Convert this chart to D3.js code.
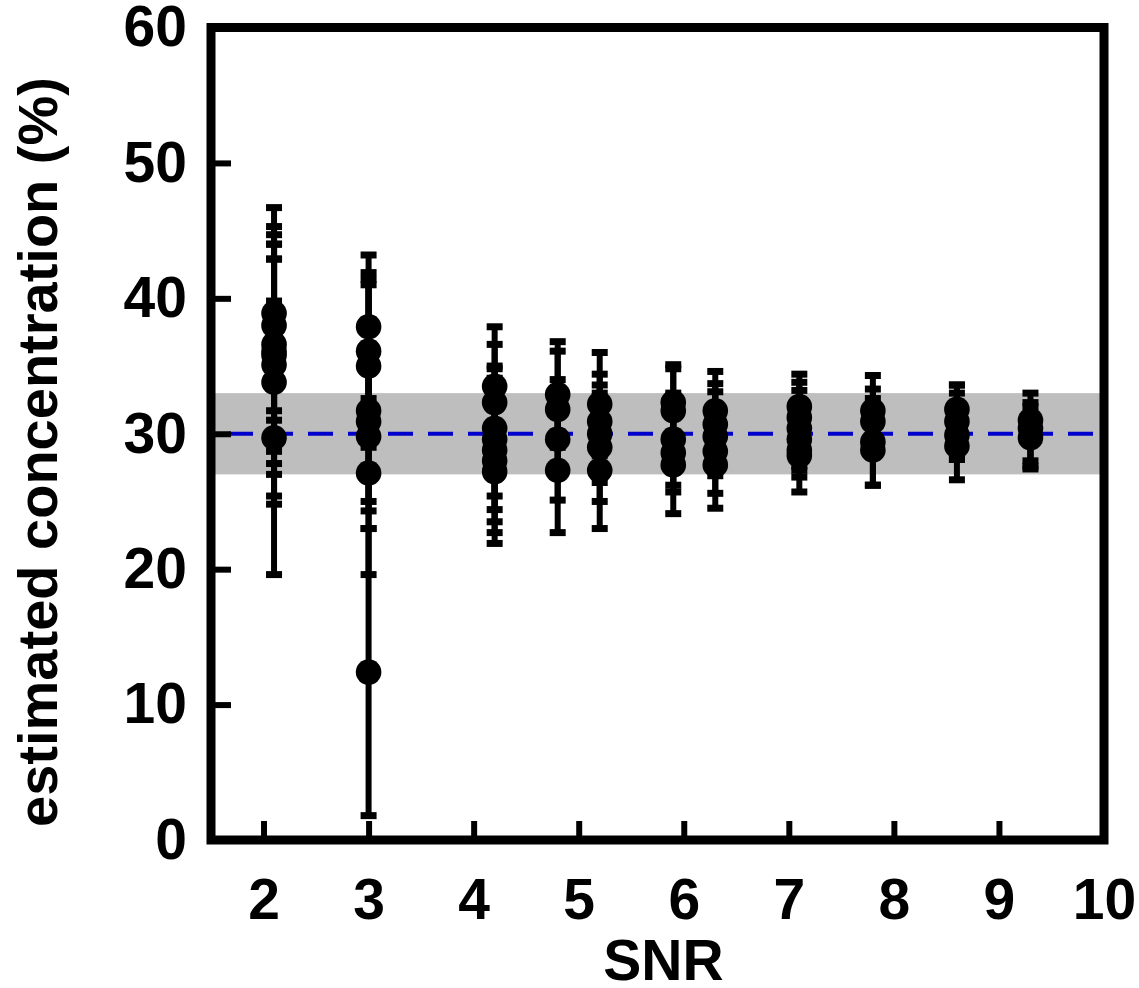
<!DOCTYPE html>
<html>
<head>
<meta charset="utf-8">
<script src="https://cdn.jsdelivr.net/npm/d3@7"></script>
<style>
    body { margin: 0; background: #fff; }
    svg { display: block; font-family: "Liberation Sans", Arial, sans-serif; font-weight: bold; }
    .axis text { font-size: 57px; font-weight: bold; fill: #000; }
    .axis line { stroke: #000; stroke-width: 6; }
</style>
</head>
<body>
<div id="view"></div>
<script>

// SNR position of each group of estimates
var snrLevels = [2.1, 3.0, 4.2, 4.8, 5.2, 5.9, 6.3, 7.1, 7.8, 8.6, 9.3];

// estimated concentration (%) per group
var estimates = [
    [38.9, 38.0, 36.6, 36.1, 35.8, 35.1, 33.8, 29.7],
    [37.9, 36.1, 35.0, 31.7, 30.9, 29.8, 27.1, 12.4],
    [33.5, 32.3, 30.4, 29.6, 28.8, 28.0, 27.2],
    [32.9, 31.8, 29.6, 27.3],
    [32.2, 30.9, 30.0, 29.0, 27.3],
    [32.3, 31.7, 29.6, 28.6, 27.7],
    [31.7, 30.7, 29.8, 28.7, 27.7],
    [32.0, 31.2, 30.4, 29.6, 28.8, 28.4],
    [31.7, 30.9, 29.4, 28.8],
    [31.8, 30.9, 29.9, 29.1],
    [31.0, 30.4, 29.7],
];

var lowerLimits = [
    [31.0, 31.7, 28.7, 27.8, 27.0, 25.4, 24.8, 19.6],
    [32.6, 30.3, 29.0, 25.0, 24.3, 19.6, 23.0, 1.8],
    [29.1, 28.0, 25.4, 24.4, 23.5, 22.7, 21.9],
    [29.0, 27.5, 25.1, 22.7],
    [28.4, 27.4, 26.4, 25.0, 23.0],
    [29.5, 28.6, 26.2, 25.7, 24.1],
    [28.8, 27.7, 26.9, 25.6, 24.5],
    [29.6, 28.6, 27.6, 27.3, 26.8, 25.7],
    [29.3, 28.5, 26.2, 26.2],
    [29.9, 28.1, 26.6, 28.1],
    [28.0, 27.4, 27.6],
];

var upperLimits = [
    [46.7, 45.3, 44.7, 44.0, 44.0, 42.9, 42.9, 39.8],
    [43.2, 41.9, 41.0, 38.4, 37.5, 41.4, 31.2, 23.0],
    [37.9, 36.6, 35.0, 34.8, 34.1, 33.3, 32.5],
    [36.8, 36.1, 34.0, 31.9],
    [36.0, 34.4, 33.6, 33.0, 31.6],
    [35.1, 34.8, 33.0, 31.5, 31.3],
    [34.6, 33.7, 33.1, 31.8, 30.9],
    [34.4, 33.8, 33.2, 31.9, 30.8, 31.1],
    [34.3, 33.3, 32.6, 31.4],
    [33.6, 33.6, 33.0, 31.5],
    [33.0, 32.3, 32.0],
];

var trueValue = 30;
var toleranceBand = [27, 33];

var xTicks = [2, 3, 4, 5, 6, 7, 8, 9, 10];
var yTicks = [0, 10, 20, 30, 40, 50, 60];

var points = [];
snrLevels.forEach((snr, i) => {
    estimates[i].forEach((v, j) => {
        points.push({snr: snr, value: v, lo: lowerLimits[i][j], hi: upperLimits[i][j]});
    });
});

var chart = {
    width: 1139,
    height: 988,
    left: 211,
    right: 1104,
    top: 27.5,
    bottom: 840,
};

var x = d3.scaleLinear().domain([1.5, 10]).range([chart.left, chart.right]);
var y = d3.scaleLinear().domain([0, 60]).range([chart.bottom, chart.top]);

var svg = d3.select("#view")
    .append("svg")
    .attr("width", chart.width)
    .attr("height", chart.height)
;

// shaded tolerance band and true value
svg.append("rect")
    .attr("x", x(1.5))
    .attr("width", x(10) - x(1.5))
    .attr("y", y(toleranceBand[1]))
    .attr("height", y(toleranceBand[0]) - y(toleranceBand[1]))
    .attr("fill", "#bebebe")
;

svg.append("line")
    .attr("x1", x(1.5))
    .attr("x2", x(10))
    .attr("y1", y(trueValue))
    .attr("y2", y(trueValue))
    .attr("stroke", "#0000cc")
    .attr("stroke-width", 4)
    .attr("stroke-dasharray", "25,15")
    .attr("stroke-dashoffset", 23)
;

// error bars
var bars = svg.append("g").attr("class", "errorbars");
bars.selectAll("line.whisker").data(points).enter()
    .append("line")
    .attr("class", "whisker")
    .attr("x1", d => x(d.snr))
    .attr("x2", d => x(d.snr))
    .attr("y1", d => y(d.lo))
    .attr("y2", d => y(d.hi))
    .attr("stroke", "#000")
    .attr("stroke-width", 6)
;

var caps = [];
points.forEach(d => { caps.push({snr: d.snr, v: d.lo}); caps.push({snr: d.snr, v: d.hi}); });
bars.selectAll("line.cap").data(caps).enter()
    .append("line")
    .attr("class", "cap")
    .attr("x1", d => x(d.snr) - 8)
    .attr("x2", d => x(d.snr) + 8)
    .attr("y1", d => y(d.v))
    .attr("y2", d => y(d.v))
    .attr("stroke", "#000")
    .attr("stroke-width", 7)
;

svg.append("g").attr("class", "points")
    .selectAll("circle").data(points).enter()
    .append("circle")
    .attr("cx", d => x(d.snr))
    .attr("cy", d => y(d.value))
    .attr("r", 12.8)
    .attr("fill", "#000")
;

// axes with inward ticks
var xAxis = svg.append("g")
    .attr("class", "axis")
    .attr("transform", `translate(0, ${chart.bottom})`)
    .call(d3.axisBottom(x).tickValues(xTicks).tickSizeInner(-19).tickSizeOuter(0).tickPadding(39))
;
xAxis.select(".domain").remove();

var yAxis = svg.append("g")
    .attr("class", "axis")
    .attr("transform", `translate(${chart.left}, 0)`)
    .call(d3.axisLeft(y).tickValues(yTicks).tickSizeInner(-20).tickSizeOuter(0).tickPadding(24))
;
yAxis.select(".domain").remove();
yAxis.selectAll("text").attr("font-size", 56);

// frame
svg.append("rect")
    .attr("x", chart.left)
    .attr("y", chart.top)
    .attr("width", chart.right - chart.left)
    .attr("height", chart.bottom - chart.top)
    .attr("fill", "none")
    .attr("stroke", "#000")
    .attr("stroke-width", 9)
;

svg.append("text")
    .attr("x", (chart.left + chart.right) / 2 + 6)
    .attr("y", 980)
    .attr("text-anchor", "middle")
    .attr("font-size", 57)
    .text("SNR")
;

svg.append("text")
    .attr("transform", "translate(57, 452) rotate(-90)")
    .attr("text-anchor", "middle")
    .attr("font-size", 56)
    .text("estimated concentration (%)")
;

</script>
</body>
</html>
